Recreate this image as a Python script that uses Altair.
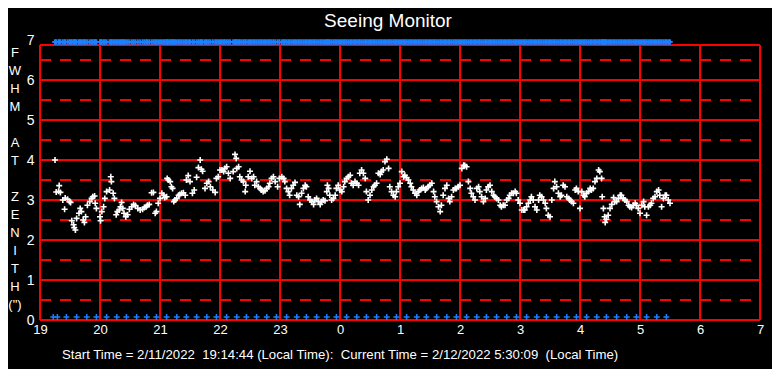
import altair as alt
import pandas as pd

# ---- data ----
hours = [
 19.25,19.27,19.31,19.32,19.34,19.38,19.41,19.42,19.46,19.49,19.51,19.53,19.56,19.57,19.59,19.61,19.65,19.67,19.69,19.72,
 19.74,19.76,19.79,19.83,19.86,19.88,19.91,19.92,19.94,20.00,20.01,20.03,20.06,20.08,20.11,20.16,20.18,20.19,20.22,20.24,
 20.27,20.29,20.32,20.34,20.36,20.38,20.40,20.43,20.46,20.49,20.53,20.56,20.59,20.63,20.67,20.71,20.74,20.77,20.79,20.82,
 20.86,20.89,20.92,20.94,20.97,21.00,21.03,21.06,21.08,21.11,21.12,21.14,21.17,21.19,21.21,21.23,21.25,21.28,21.31,21.33,
 21.36,21.39,21.42,21.44,21.47,21.50,21.54,21.57,21.61,21.64,21.67,21.69,21.71,21.75,21.78,21.81,21.84,21.88,21.92,21.94,
 21.97,22.00,
 22.03,22.06,22.08,22.11,22.14,22.17,22.22,22.25,22.27,22.28,22.31,22.33,22.36,22.39,22.42,22.43,22.47,22.50,22.53,22.56,
 22.58,22.61,22.64,22.67,22.69,22.72,22.75,22.78,22.81,22.83,22.86,22.89,22.92,22.96,22.99,23.03,23.06,23.08,23.11,23.14,
 23.16,23.19,23.22,23.25,23.28,23.31,23.33,23.36,23.39,23.42,23.44,23.47,23.50,23.53,23.56,23.58,23.61,23.64,23.67,23.69,
 23.72,23.75,23.78,23.79,23.81,23.83,23.86,23.89,23.92,23.94,23.97,24.00,24.03,24.06,24.08,24.11,24.14,24.17,24.19,24.22,
 24.25,24.28,24.31,24.33,24.36,24.39,24.42,24.44,24.47,24.50,24.53,24.56,24.58,24.61,24.64,24.67,24.69,24.72,24.75,24.78,
 24.81,24.83,24.86,24.89,24.92,24.94,24.97,25.00,
 25.03,25.06,25.08,25.11,25.14,25.17,25.19,25.22,25.25,25.28,25.31,25.33,25.36,25.39,25.42,25.44,25.47,25.50,25.53,25.56,
 25.58,25.61,25.64,25.67,25.69,25.72,25.75,25.78,25.81,25.83,25.86,25.89,25.92,25.94,25.97,26.00,26.03,26.06,26.08,26.11,
 26.14,26.17,26.19,26.22,26.25,26.28,26.31,26.33,26.36,26.39,26.42,26.44,26.47,26.50,26.53,26.56,26.58,26.61,26.64,26.67,
 26.69,26.72,26.75,26.78,26.81,26.83,26.86,26.89,26.92,26.94,26.97,27.00,27.03,27.06,27.08,27.11,27.14,27.17,27.19,27.22,
 27.25,27.28,27.31,27.33,27.36,27.39,27.42,27.44,27.47,27.50,27.53,27.56,27.58,27.61,27.64,27.67,27.69,27.72,27.75,27.78,
 27.81,27.83,27.86,27.89,27.92,27.94,27.97,28.00,
 28.03,28.06,28.08,28.11,28.14,28.17,28.19,28.22,28.25,28.28,28.31,28.33,28.36,28.37,28.39,28.41,28.42,28.44,28.47,28.50,
 28.53,28.56,28.58,28.61,28.64,28.67,28.69,28.72,28.75,28.78,28.81,28.83,28.86,28.89,28.92,28.94,28.97,29.00,29.03,29.06,
 29.08,29.11,29.14,29.17,29.19,29.22,29.25,29.28,29.31,29.33,29.36,29.39,29.42,29.44,29.47,29.50,
]
fwhm = [
 4.00,3.20,3.22,3.36,3.19,3.00,2.77,3.05,3.02,2.96,2.94,2.48,2.38,2.31,2.25,2.54,2.67,2.79,2.71,2.50,
 2.44,2.58,2.87,2.96,3.04,3.08,3.10,2.92,2.79,2.58,2.48,2.71,2.83,3.04,3.21,3.25,3.58,3.46,3.17,3.04,
 2.63,2.71,2.75,2.83,2.94,2.79,2.67,2.58,2.63,2.77,2.83,2.89,2.86,2.79,2.75,2.77,2.81,2.83,2.87,2.89,
 3.18,3.19,2.67,2.71,2.92,3.04,3.17,3.12,3.06,3.08,3.54,3.50,3.46,3.33,3.29,2.96,3.00,3.04,3.12,3.14,
 3.17,3.18,3.12,3.50,3.61,3.46,3.17,3.25,3.57,3.81,4.00,3.77,3.72,3.29,3.42,3.46,3.33,3.25,3.19,3.54,
 3.58,3.75,
 3.75,3.71,3.79,3.83,3.67,3.54,3.71,4.14,4.04,3.79,3.83,3.58,3.50,3.46,3.21,3.37,3.58,3.72,3.54,3.58,
 3.37,3.46,3.33,3.29,3.25,3.21,3.23,3.29,3.33,3.42,3.54,3.58,3.46,3.33,3.54,3.58,3.54,3.46,3.29,3.21,
 3.12,3.29,3.37,3.44,3.12,3.08,2.89,3.17,3.29,3.37,3.33,3.08,3.00,2.96,2.89,3.00,3.04,2.96,2.89,2.96,
 3.00,2.98,3.21,3.37,3.29,3.12,3.00,3.04,3.12,3.29,3.37,3.25,3.21,3.33,3.46,3.54,3.58,3.62,3.42,3.37,
 3.46,3.42,3.37,3.67,3.75,3.67,3.54,3.21,3.00,3.12,3.25,3.33,3.37,3.42,3.67,3.64,3.71,3.75,3.96,4.02,
 3.79,3.33,3.21,3.12,3.08,3.21,3.33,3.42,
 3.71,3.58,3.62,3.56,3.50,3.42,3.33,3.25,3.17,3.12,3.21,3.25,3.29,3.31,3.25,3.29,3.33,3.37,3.42,3.21,
 3.08,2.96,2.83,2.71,2.87,3.12,3.29,3.37,3.04,2.96,3.08,3.25,3.29,3.29,3.33,3.37,3.79,3.87,3.86,3.83,
 3.46,3.29,3.17,3.08,3.00,3.29,3.33,3.21,3.08,2.96,3.04,3.25,3.33,3.37,3.21,3.12,3.08,3.04,3.00,2.87,
 2.83,2.87,2.87,3.00,3.04,3.12,3.17,3.17,3.21,3.17,3.00,2.92,2.75,2.75,2.75,2.83,2.92,3.00,3.08,3.00,
 2.83,2.75,3.00,3.12,3.08,3.00,2.92,2.79,2.62,2.58,3.00,3.29,3.46,3.33,3.17,3.08,3.12,3.37,3.33,3.08,
 3.04,3.00,2.96,2.92,3.25,3.29,3.21,2.79,
 3.21,3.12,3.08,3.17,3.21,3.29,3.25,3.29,3.46,3.54,3.75,3.71,3.54,3.08,2.79,2.58,2.44,2.52,2.62,2.79,
 2.89,3.06,2.96,2.96,3.04,3.12,3.12,3.04,3.00,2.96,2.87,2.83,2.81,2.87,2.92,2.87,2.79,2.67,2.87,2.96,
 2.83,2.62,2.83,2.87,2.92,3.04,3.08,3.21,3.25,3.12,2.83,3.04,3.12,3.12,3.00,2.92,
]
bottom_marks = [
 19.22,19.29,19.44,19.61,19.78,19.94,20.11,20.28,20.44,20.61,20.78,20.94,21.11,21.28,21.44,21.61,21.78,21.94,
 22.11,22.28,22.44,22.61,22.78,22.94,23.11,23.28,23.44,23.61,23.78,23.94,24.11,24.28,24.44,24.61,24.78,24.94,
 25.11,25.28,25.44,25.61,25.78,25.94,26.11,26.28,26.44,26.61,26.78,26.94,27.11,27.28,27.44,27.61,27.78,27.94,
 28.11,28.28,28.44,28.61,28.78,28.94,29.11,29.28,29.44,
]
hour_ticks = [19, 20, 21, 22, 23, 24, 25, 26, 27, 28, 29, 30, 31]
fwhm_ticks = [0, 1, 2, 3, 4, 5, 6, 7]
solid_levels = [0, 1, 2, 3, 4, 5, 6]
dashed_levels = [0.5, 1.5, 2.5, 3.5, 4.5, 5.5, 6.5]
top_level = 6.95
bottom_level = 0.075
ylabel_chars = ["F", "W", "H", "M", "A", "T", "Z", "E", "N", "I", "T", "H", "(\")"]
title_text = "Seeing Monitor"
NB = "\u00a0"
footer_text = ("Start Time = 2/11/2022" + NB + " 19:14:44 (Local Time):" + NB +
               " Current Time = 2/12/2022 5:30:09" + NB + " (Local Time)")

W, H = 720, 280
RED = "#ff0000"
BLUE = "#1a80ff"
FONT = "Liberation Sans"
PLUS = "M-1,0L1,0M0,-1L0,1"

xs = alt.Scale(domain=[19, 31], nice=False, zero=False)
ys = alt.Scale(domain=[0, 7], nice=False, zero=True)
xaxis = alt.Axis(values=hour_ticks, labelExpr="datum.value >= 24 ? datum.value - 24 : datum.value",
                 grid=False, domain=False, ticks=False, labelColor="white", labelFont=FONT, labelFontSize=13,
                 labelPadding=3, title=None, labelFlush=False)
yaxis = alt.Axis(values=fwhm_ticks, grid=False, domain=False, ticks=False, labelColor="white", labelFont=FONT,
                 labelFontSize=14, labelPadding=6, title=None, labelFlush=False)

pts = pd.DataFrame({"hour": hours, "fwhm": fwhm})
top = pd.DataFrame({"hour": hours, "fwhm": [top_level] * len(hours)})
bot = pd.DataFrame({"hour": bottom_marks, "fwhm": [bottom_level] * len(bottom_marks)})

vgrid = alt.Chart(pd.DataFrame({"hour": hour_ticks})).mark_rule(color=RED, strokeWidth=2).encode(
    x=alt.X("hour:Q", scale=xs, axis=xaxis), y=alt.value(5), y2=alt.value(H))
hsolid = alt.Chart(pd.DataFrame({"fwhm": solid_levels})).mark_rule(color=RED, strokeWidth=2).encode(
    y=alt.Y("fwhm:Q", scale=ys, axis=yaxis), x=alt.value(0), x2=alt.value(W))
hdash = alt.Chart(pd.DataFrame({"fwhm": dashed_levels})).mark_rule(color=RED, strokeWidth=2, strokeDash=[11, 9]).encode(
    y=alt.Y("fwhm:Q", scale=ys, axis=yaxis), x=alt.value(0), x2=alt.value(W))
htop = alt.Chart(pd.DataFrame({"v": [0]})).mark_rule(color=RED, strokeWidth=2).encode(
    y=alt.value(5), x=alt.value(0), x2=alt.value(W))

points = alt.Chart(pts).mark_point(shape=PLUS, size=36, stroke="white", strokeWidth=1.6, filled=False, opacity=1).encode(
    x=alt.X("hour:Q", scale=xs, axis=xaxis),
    y=alt.Y("fwhm:Q", scale=ys, axis=yaxis),
)
topmarks = alt.Chart(top).mark_point(shape=PLUS, size=30, stroke=BLUE, strokeWidth=2, filled=False, opacity=1).encode(
    x=alt.X("hour:Q", scale=xs, axis=xaxis), y=alt.Y("fwhm:Q", scale=ys, axis=yaxis))
botmarks = alt.Chart(bot).mark_point(shape=PLUS, size=36, stroke=BLUE, strokeWidth=1.5, filled=False, opacity=1).encode(
    x=alt.X("hour:Q", scale=xs, axis=xaxis), y=alt.Y("fwhm:Q", scale=ys, axis=yaxis))

title = alt.Chart(pd.DataFrame({"t": [title_text]})).mark_text(
    color="white", font=FONT, fontSize=19, align="center", baseline="middle").encode(
    text="t:N", x=alt.value(348), y=alt.value(-19))
footer = alt.Chart(pd.DataFrame({"t": [footer_text]})).mark_text(
    color="white", font=FONT, fontSize=13.2, align="left", baseline="middle").encode(
    text="t:N", x=alt.value(22), y=alt.value(315))

letter_y = [13, 31, 49, 67, 103, 121, 157, 175, 193, 211, 229, 247, 265]
letters = alt.Chart(pd.DataFrame({"c": ylabel_chars, "py": letter_y})).mark_text(
    color="white", font=FONT, fontSize=13, align="center", baseline="middle").encode(
    text="c:N", y=alt.Y("py:Q", scale=None, axis=None), x=alt.value(-25))

chart = alt.layer(vgrid, hsolid, hdash, htop, points, topmarks, botmarks, title, footer, letters).properties(
    width=W, height=H,
    autosize=alt.AutoSizeParams(type="none"),
    padding={"left": 32, "top": 32, "right": 12, "bottom": 49},
).configure(background="black").configure_view(stroke=None)

chart.save("out.html", embed_options={"renderer": "svg", "actions": False})
